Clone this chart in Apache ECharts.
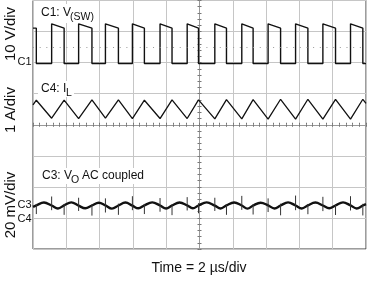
<!DOCTYPE html>
<html><head><meta charset="utf-8">
<script src="https://cdn.jsdelivr.net/npm/echarts@6/dist/echarts.min.js"></script>
<style>html,body{margin:0;padding:0;background:#fff}#c{width:367px;height:284px}</style>
</head><body><div id="c"></div>
<script>
// ---- data (time in µs, trigger at screen centre) ----
const risingEdgesUs  = [-8.88, -7.26, -5.65, -4.03, -2.37, -0.74, 0.92, 2.54, 4.12, 5.77, 7.41, 9.07];
const fallingEdgesUs = [-9.80, -8.13, -6.46, -4.87, -3.31, -1.65, -0.06, 1.62, 3.22, 4.87, 6.51, 8.17, 9.81];
// switch node levels (V): low, overshoot at turn-on, start of flat top, end of flat top
const swLevelsV = [-0.3, 12.5, 11.9, 11.1];

// inductor current vertices
const ilTimesUs  = [-10, -9.80, -8.88, -8.13, -7.26, -6.46, -5.65, -4.87, -4.03, -3.31, -2.37, -1.65, -0.74, -0.06, 0.92, 1.62, 2.54, 3.22, 4.12, 4.87, 5.77, 6.51, 7.41, 8.17, 9.07, 9.81, 10];
const ilValuesA  = [3.64, 3.79, 3.21, 3.79, 3.20, 3.80, 3.21, 3.80, 3.20, 3.79, 3.20, 3.80, 3.20, 3.80, 3.19, 3.81, 3.19, 3.81, 3.18, 3.82, 3.18, 3.82, 3.18, 3.82, 3.18, 3.82, 3.69];

// output ripple (mV, AC coupled)
const voTimesUs  = [-10, -9.80, -9.34, -8.88, -8.50, -8.13, -7.70, -7.26, -6.86, -6.46, -6.05, -5.65, -5.26, -4.87, -4.45, -4.03, -3.67, -3.31, -2.84, -2.37, -2.01, -1.65, -1.20, -0.74, -0.40, -0.06, 0.43, 0.92, 1.27, 1.62, 2.08, 2.54, 2.88, 3.22, 3.67, 4.12, 4.50, 4.87, 5.32, 5.77, 6.14, 6.51, 6.96, 7.41, 7.79, 8.17, 8.62, 9.07, 9.44, 9.81, 10];
const voValuesMv = [-0.9, 0.1, 1.9, 0.0, -1.9, 0.1, 2.0, -0.1, -1.8, 0.0, 1.8, 0.1, -2.0, 0.0, 1.9, -0.1, -1.8, 0.1, 2.0, 0.0, -1.9, 0.0, 1.9, 0.1, -1.8, 0.0, 2.0, -0.1, -1.9, 0.1, 1.9, 0.0, -2.0, 0.0, 1.8, 0.1, -1.9, 0.0, 2.0, 0.0, -1.9, 0.1, 1.9, 0.0, -1.8, 0.0, 2.0, 0.1, -1.9, 0.0, 0.9];
// switching spikes on the output
const spikeTimesUs = [-9.80, -8.88, -8.13, -7.26, -6.46, -5.65, -4.87, -4.03, -3.31, -2.37, -1.65, -0.74, -0.06, 0.92, 1.62, 2.54, 3.22, 4.12, 4.87, 5.77, 6.51, 7.41, 8.17, 9.07, 9.81];
const spikeHighMv  = [1.0, 5.8, 1.0, 5.0, 0.8, 4.6, 1.2, 6.0, 1.0, 4.8, 0.8, 5.4, 1.5, 5.0, 1.0, 6.2, 0.8, 4.6, 1.2, 6.4, 1.0, 5.6, 0.9, 6.0, 1.1];
const spikeLowMv   = [-5.5, -3.0, -6.0, -3.5, -6.5, -4.5, -6.0, -3.0, -5.5, -4.0, -6.2, -3.2, -5.0, -3.5, -6.0, -2.8, -5.8, -4.2, -6.3, -3.0, -5.6, -3.6, -6.1, -3.2, -6.4];

// ---- build series ----
const edges = risingEdgesUs.map(t => [t, 'R']).concat(fallingEdgesUs.map(t => [t, 'F'])).sort((a, b) => a[0] - b[0]);
const swData = [[-10, swLevelsV[3]]];
edges.forEach(([t, k]) => {
  if (k === 'F') { swData.push([t, swLevelsV[3]], [t, swLevelsV[0]]); }
  else { swData.push([t, swLevelsV[0]], [t, swLevelsV[1]], [t + 0.08, swLevelsV[2]]); }
});
swData.push([10, swLevelsV[0]]);
const ilData = ilTimesUs.map((t, i) => [t, ilValuesA[i]]);
const voData = voTimesUs.map((t, i) => [t, voValuesMv[i]]);
const spikeData = [];
spikeTimesUs.forEach((t, i) => { spikeData.push([t, spikeHighMv[i]], [t, spikeLowMv[i]], [t, '-']); });

const FONT = '"Liberation Sans", Arial, Helvetica, sans-serif';
const gridColor = '#c6c6c6';
const tickAxis = (inside) => ({
  type: 'value', min: -10, max: 10, interval: 2,
  axisLine: { show: true, onZero: true, onZeroAxisIndex: 0, lineStyle: { color: '#999', width: 1 } },
  axisTick: { show: true, inside: inside, length: 2, lineStyle: { color: '#777' } },
  minorTick: { show: true, splitNumber: 5, length: 2, lineStyle: { color: '#777' } },
  axisLabel: { show: false }, splitLine: { show: false }
});
const tickAxisY = (inside) => ({
  type: 'value', min: -4, max: 4, interval: 1,
  axisLine: { show: true, onZero: true, onZeroAxisIndex: 0, lineStyle: { color: '#999', width: 1 } },
  axisTick: { show: true, inside: inside, length: 2, lineStyle: { color: '#777' } },
  minorTick: { show: true, splitNumber: 5, length: 2, lineStyle: { color: '#777' } },
  axisLabel: { show: false }, splitLine: { show: false }
});
const txt = (text, x, y, size, extra) => ({
  type: 'text', x: x, y: y, z: 5,
  style: Object.assign({ text: text, font: size + 'px ' + FONT, fill: '#111', textAlign: 'left', textVerticalAlign: 'middle' }, extra || {})
});
const vtxt = (text, x, y) => ({
  type: 'text', x: x, y: y, rotation: Math.PI / 2, z: 5,
  style: { text: text, font: '15px ' + FONT, fill: '#111', textAlign: 'center', textVerticalAlign: 'middle' }
});

const chart = echarts.init(document.getElementById('c'), null, { renderer: 'canvas' });
chart.setOption({
  animation: false,
  grid: { left: 33, right: 1, top: 0.5, bottom: 35, show: true, borderColor: '#3a3a3a', borderWidth: 1, backgroundColor: 'transparent' },
  xAxis: [
    { type: 'value', min: -10, max: 10, interval: 2, axisLine: { show: false }, axisTick: { show: false }, axisLabel: { show: false },
      splitLine: { show: true, lineStyle: { color: gridColor, width: 1 } } },
    tickAxis(false), tickAxis(true)
  ],
  yAxis: [
    { type: 'value', min: -4, max: 4, interval: 1, axisLine: { show: false }, axisTick: { show: false }, axisLabel: { show: false },
      splitLine: { show: true, lineStyle: { color: gridColor, width: 1 } } },
    { type: 'value', min: -60, max: 20, show: false, splitLine: { show: false } },
    { type: 'value', min: -1, max: 7, show: false, splitLine: { show: false } },
    { type: 'value', min: -28, max: 132, show: false, splitLine: { show: false } },
    tickAxisY(false), tickAxisY(true)
  ],
  graphic: [
    { type: 'rect', z: 1, shape: { x: 38, y: 4, width: 50, height: 19 }, style: { fill: '#fff' } },
    { type: 'rect', z: 1, shape: { x: 38, y: 81, width: 36, height: 16 }, style: { fill: '#fff' } },
    { type: 'rect', z: 1, shape: { x: 34, y: 168, width: 115, height: 16 }, style: { fill: '#fff' } },
    txt('C1: V', 41, 13, 12), txt('(SW)', 70, 17.5, 10.5),
    txt('C4: I', 41, 89, 12), txt('L', 66, 93.5, 10.5),
    txt('C3: V', 42, 176, 12), txt('O', 71, 180.5, 10.5), txt('AC coupled', 82, 176, 12),
    txt('C1', 31.5, 62, 11, { textAlign: 'right' }),
    txt('C3', 31.5, 205, 11, { textAlign: 'right' }),
    txt('C4', 31.5, 219, 11, { textAlign: 'right' }),
    vtxt('10 V/div', 11, 34),
    vtxt('1 A/div', 11, 110),
    vtxt('20 mV/div', 11, 205),
    txt('Time = 2 µs/div', 199, 268, 14, { textAlign: 'center' })
  ],
  series: [
    { name: 'C1 V(SW)', type: 'line', xAxisIndex: 0, yAxisIndex: 1, data: swData, showSymbol: false, symbol: 'none',
      lineStyle: { color: '#111', width: 1.4 }, z: 3,
      markLine: { silent: true, symbol: 'none', label: { show: false },
        lineStyle: { type: [1, 5.67], color: '#999', width: 1 }, data: [{ yAxis: 5 }] } },
    { name: 'C4 IL', type: 'line', xAxisIndex: 0, yAxisIndex: 2, data: ilData, showSymbol: false, symbol: 'none',
      lineStyle: { color: '#111', width: 1.3 }, z: 3 },
    { name: 'C3 VO', type: 'line', xAxisIndex: 0, yAxisIndex: 3, data: voData, showSymbol: false, symbol: 'none', smooth: 0.4,
      lineStyle: { color: '#111', width: 2.4 }, z: 3 },
    { name: 'C3 spikes', type: 'line', xAxisIndex: 0, yAxisIndex: 3, data: spikeData, showSymbol: false, symbol: 'none', connectNulls: false,
      lineStyle: { color: '#333', width: 1 }, z: 3 }
  ]
});
</script></body></html>
